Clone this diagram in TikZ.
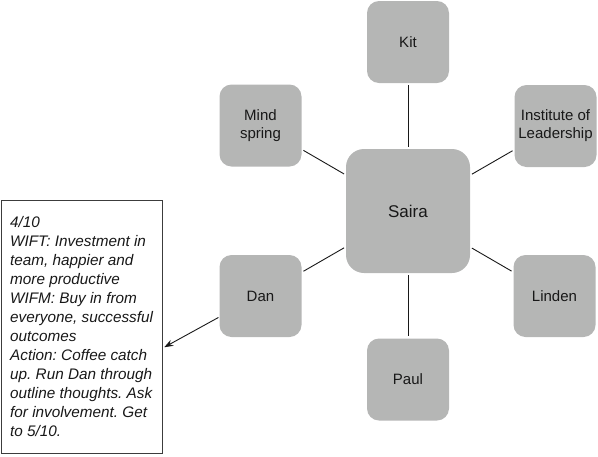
\documentclass[tikz,border=0pt]{standalone}
\usepackage{fontspec}
\setmainfont{Liberation Sans}
\usetikzlibrary{arrows.meta}
\definecolor{boxgray}{RGB}{181,182,181}
\definecolor{inkc}{RGB}{24,24,24}
\definecolor{framec}{RGB}{60,60,60}
\frenchspacing
\begin{document}
\begin{tikzpicture}[x=1pt,y=-1pt,
  pbox/.style={fill=boxgray, rounded corners=12pt, minimum width=82pt, minimum height=82pt,
    inner sep=0pt, align=center, text=inkc, font=\fontsize{15}{18}\selectfont},
  cbox/.style={pbox, minimum width=124pt, minimum height=124pt, rounded corners=18pt,
    font=\fontsize{17}{20}\selectfont},
  link/.style={draw=inkc, line width=0.9pt, shorten >=2pt, shorten <=2pt},
  tbox/.style={draw=framec, line width=1pt, minimum width=161pt, minimum height=253pt, inner sep=0pt},
  tnote/.style={inner sep=0pt, align=left, text=inkc, font=\fontsize{15.3}{19}\selectfont\itshape},
  pointer/.style={draw=inkc, line width=0.9pt, -{Stealth[length=9pt,width=6.5pt]}, shorten >=2pt, shorten <=1pt}
  ]
\useasboundingbox (0,0) rectangle (598,456);

\node[cbox] (saira) at (408,211) {Saira};
\node[pbox] (kit) at (408,42) {Kit};
\node[pbox] (inst) at (555.5,126) {Institute of\\Leadership};
\node[pbox] (mind) at (260.5,125.5) {Mind\\spring};
\node[pbox] (dan) at (260.5,296) {Dan};
\node[pbox] (linden) at (554.5,296) {Linden};
\node[pbox] (paul) at (408,379.5) {Paul};

\draw[link] (saira) -- (kit);
\draw[link] (saira) -- (inst);
\draw[link] (saira) -- (mind);
\draw[link] (saira) -- (dan);
\draw[link] (saira) -- (linden);
\draw[link] (saira) -- (paul);

\node[tbox] (tb) at (81.5,326.5) {};
\node[tnote, anchor=west] (tbt) at (10,326.1) {4/10\\WIFT: Investment in\\team, happier and\\more productive\\WIFM: Buy in from\\everyone, successful\\outcomes\\Action: Coffee catch\\up. Run Dan through\\outline thoughts. Ask\\for involvement. Get\\to 5/10.};

\draw[pointer] (dan.-153) -- (tb.-15);
\end{tikzpicture}
\end{document}
